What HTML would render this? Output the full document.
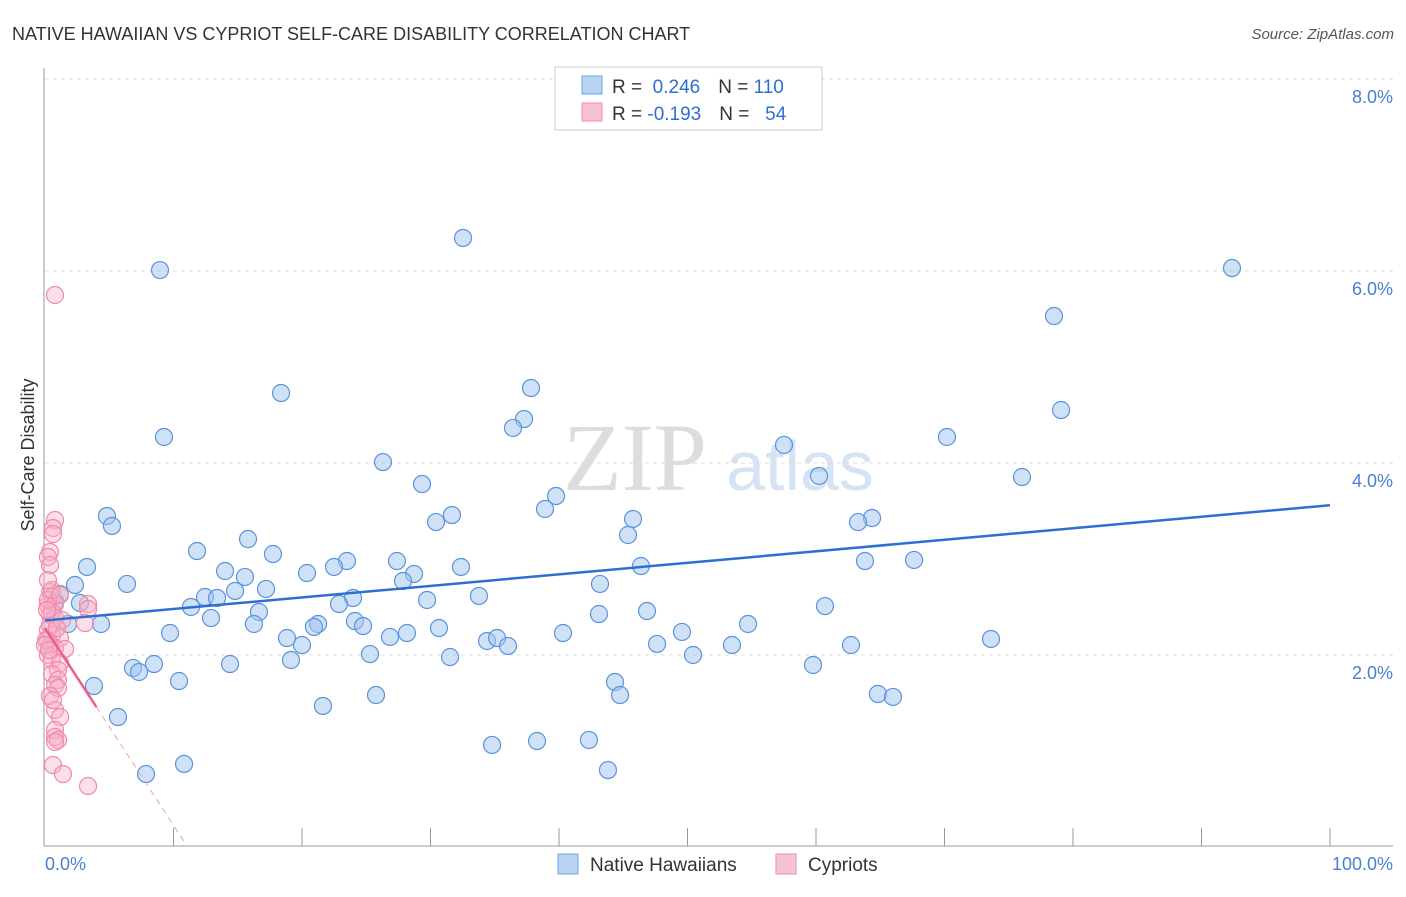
<!DOCTYPE html>
<html><head><meta charset="utf-8"><style>
body{margin:0;background:#fff;font-family:"Liberation Sans",sans-serif;}
</style></head><body>
<svg width="1406" height="892">
<text x="12" y="40" font-size="18" fill="#333">NATIVE HAWAIIAN VS CYPRIOT SELF-CARE DISABILITY CORRELATION CHART</text>
<text x="1394" y="39" font-size="15" fill="#555" font-style="italic" text-anchor="end">Source: ZipAtlas.com</text>
<text x="635" y="490" font-size="96" fill="#ddd" font-family="Liberation Serif" text-anchor="middle">ZIP</text>
<text x="800" y="490" font-size="70" fill="#d6e3f3" text-anchor="middle">atlas</text>
<g id="grid"></g><g id="axes"></g>
<text transform="translate(34,455) rotate(-90)" font-size="18" fill="#333" text-anchor="middle">Self-Care Disability</text>
<text x="45" y="870" font-size="18" fill="#4a7fd0">0.0%</text>
<text x="1393" y="870" font-size="18" fill="#4a7fd0" text-anchor="end">100.0%</text>
<g id="pts"></g><g id="lines"></g>
<g>
<rect x="555" y="67" width="267" height="63" fill="#fff" stroke="#ccc"/>
<rect x="582" y="76" width="20" height="18" fill="#b8d3f3" stroke="#6fa0e0"/>
<rect x="582" y="103" width="20" height="18" fill="#f9c2d3" stroke="#ef8cab"/>
<text x="612" y="93" font-size="19" fill="#333">R = <tspan fill="#2e6fd0">&#160;0.246</tspan><tspan dx="18">N = </tspan><tspan fill="#2e6fd0">110</tspan></text>
<text x="612" y="120" font-size="19" fill="#333">R = <tspan fill="#2e6fd0">-0.193</tspan><tspan dx="18">N = </tspan><tspan fill="#2e6fd0">&#160;&#160;54</tspan></text>
</g>
<g>
<rect x="558" y="854" width="20" height="20" fill="#b8d3f3" stroke="#6fa0e0"/>
<text x="590" y="871" font-size="19" fill="#333">Native Hawaiians</text>
<rect x="776" y="854" width="20" height="20" fill="#f9c2d3" stroke="#ef8cab"/>
<text x="808" y="871" font-size="19" fill="#333">Cypriots</text>
</g>
</svg>
<script>
const yTicks=[2,4,6,8];
const bluePx=[[463,238],[160,270],[1232,268],[1054,316],[281,393],[531,388],[1061,410],[164,437],[524,419],[513,428],[947,437],[784,445],[383,462],[819,476],[1022,477],[422,484],[556,496],[107,516],[112,526],[545,509],[452,515],[436,522],[633,519],[872,518],[858,522],[628,535],[248,539],[197,551],[273,554],[87,567],[347,561],[397,561],[461,567],[334,567],[865,561],[914,560],[641,566],[225,571],[307,573],[245,577],[414,574],[403,581],[127,584],[75,585],[600,584],[266,589],[235,591],[60,594],[55,602],[353,598],[205,597],[479,596],[217,598],[427,600],[80,603],[339,604],[191,607],[825,606],[259,612],[647,611],[599,614],[211,618],[355,621],[363,626],[318,624],[314,627],[254,624],[101,624],[68,624],[748,624],[439,628],[682,632],[170,633],[407,633],[563,633],[390,637],[287,638],[487,641],[497,638],[991,639],[508,646],[302,645],[657,644],[732,645],[851,645],[370,654],[693,655],[450,657],[291,660],[154,664],[133,668],[230,664],[139,672],[813,665],[179,681],[615,682],[94,686],[620,695],[376,695],[878,694],[893,697],[323,706],[118,717],[492,745],[537,741],[589,740],[184,764],[146,774],[608,770]];
const pinkPx=[[55,295],[55,520],[53,528],[53,534],[50,552],[48,557],[50,592],[52,597],[48,605],[55,604],[88,604],[88,609],[50,615],[55,618],[85,623],[48,630],[52,635],[60,638],[50,645],[55,648],[65,649],[48,655],[52,660],[60,663],[58,670],[52,674],[58,680],[55,685],[58,688],[50,696],[55,710],[60,717],[55,730],[55,737],[58,740],[55,742],[53,765],[63,774],[88,786],[48,640],[50,625],[52,612],[46,640],[48,600],[52,590],[45,645],[48,580],[50,565],[60,595],[62,620],[47,610],[57,628],[49,650],[53,700]];
// convert to data values (x %, y %)
const blueX=bluePx.map(p=>+((p[0]-45)/12.85).toFixed(2)), blueY=bluePx.map(p=>+((847-p[1])/96).toFixed(3));
const pinkX=pinkPx.map(p=>+((p[0]-45)/12.85).toFixed(2)), pinkY=pinkPx.map(p=>+((847-p[1])/96).toFixed(3));
const blueTrend=[2.36,3.56], pinkTrend=[2.28,0];
const X=v=>45+v*12.85, Y=v=>847-v*96;
const NS="http://www.w3.org/2000/svg";
function mk(tag,attrs,parent){const e=document.createElementNS(NS,tag);for(const k in attrs)e.setAttribute(k,attrs[k]);document.getElementById(parent).appendChild(e);return e;}
yTicks.forEach(t=>{
 const l=mk('line',{x1:45,x2:1393,y1:Y(t),y2:Y(t),stroke:'#ddd','stroke-dasharray':'4,4'},'grid');
 
 
 const tx=mk('text',{x:1393,y:Y(t)+24,'font-size':18,fill:'#4a7fd0','text-anchor':'end'},'grid');
 tx.textContent=t.toFixed(1)+'%';
 
 
});
let a=mk('line',{x1:44,x2:44,y1:68,y2:846,stroke:'#999'},'axes');


a=mk('line',{x1:44,x2:1393,y1:846,y2:846,stroke:'#999'},'axes');


for(let i=1;i<=10;i++){const t=mk('line',{x1:X(i*10),x2:X(i*10),y1:828,y2:846,stroke:'#999'},'axes');
 
 }
blueX.forEach((x,i)=>{const c=mk('circle',{cx:X(x),cy:Y(blueY[i]),r:8.5,fill:'rgba(160,196,240,0.5)',stroke:'#5b93dc','stroke-width':1.2},'pts');
 
 });
pinkX.forEach((x,i)=>{const c=mk('circle',{cx:X(x),cy:Y(pinkY[i]),r:8.5,fill:'rgba(248,175,198,0.4)',stroke:'#f08aab','stroke-width':1.2},'pts');
 
 });
let t=mk('line',{x1:X(0),y1:Y(blueTrend[0]),x2:X(100),y2:Y(blueTrend[1]),stroke:'#2e6fd0','stroke-width':2.5},'lines');


const pe=11.1;
t=mk('line',{x1:X(0),y1:Y(pinkTrend[0]),x2:X(4),y2:Y(pinkTrend[0]-(pinkTrend[0]-pinkTrend[1])*4/pe),stroke:'#e8608a','stroke-width':2.5},'lines');


t=mk('line',{x1:X(4),y1:Y(pinkTrend[0]-(pinkTrend[0]-pinkTrend[1])*4/pe),x2:X(pe),y2:Y(pinkTrend[1]),stroke:'#e8a0b8','stroke-width':1,'stroke-dasharray':'6,5'},'lines');


</script>
</body></html>
